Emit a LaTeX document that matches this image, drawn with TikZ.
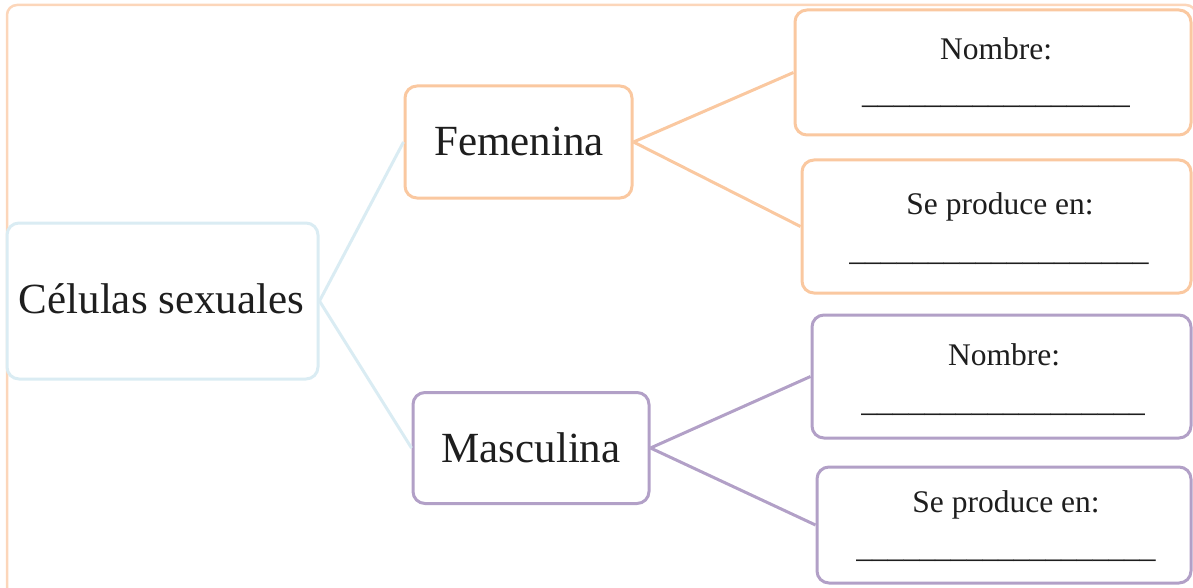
\documentclass[tikz,border=0pt]{standalone}
\usepackage{fontspec}
\setmainfont{Liberation Serif}
\definecolor{orangeC}{RGB}{250,200,160}
\definecolor{blueC}{RGB}{218,236,243}
\definecolor{purpleC}{RGB}{178,160,199}
\definecolor{frameC}{RGB}{252,214,186}
\definecolor{textC}{RGB}{30,30,30}
\begin{document}
\begin{tikzpicture}[x=1pt,y=-1pt,
  box/.style={draw, line width=3pt, rounded corners=12pt, fill=white, inner sep=0pt},
  bigtxt/.style={anchor=base, inner sep=0pt, text=textC, font=\fontsize{43}{50}\selectfont},
  smalltxt/.style={anchor=base, inner sep=0pt, text=textC, font=\fontsize{31.5}{36}\selectfont},
  link/.style={line width=3pt}]
\useasboundingbox (0,0) rectangle (1193,588);
% outer frame
\draw[frameC, line width=2.5pt, rounded corners=10pt] (7,5) rectangle (1196,620);
% boxes
\node[box, draw=blueC, minimum width=311pt, minimum height=156pt] (root) at (162.5,301) {};
\node[box, draw=orangeC, minimum width=227pt, minimum height=112pt] (fem) at (518.5,142) {};
\node[box, draw=purpleC, minimum width=236pt, minimum height=111pt] (mas) at (531,448) {};
\node[box, draw=orangeC, minimum width=396pt, minimum height=125pt] (fn) at (993,72.5) {};
\node[box, draw=orangeC, minimum width=389pt, minimum height=133pt] (fs) at (996.5,226.5) {};
\node[box, draw=purpleC, minimum width=379pt, minimum height=123pt] (mn) at (1001.5,376.5) {};
\node[box, draw=purpleC, minimum width=374pt, minimum height=116pt] (ms) at (1004,525) {};
% connectors
\draw[link, blueC] (root.east) -- (fem.west);
\draw[link, blueC] (root.east) -- (mas.west);
\draw[link, orangeC] (fem.east) -- (fn.west);
\draw[link, orangeC] (fem.east) -- (fs.west);
\draw[link, purpleC] (mas.east) -- (mn.west);
\draw[link, purpleC] (mas.east) -- (ms.west);
% labels
\node[bigtxt] (troot) at (161.5,313) {Células sexuales};
\node[bigtxt] (tfem) at (519,156) {Femenina};
\node[bigtxt] (tmas) at (531,462) {Masculina};
\node[smalltxt] (tfn1) at (996,60) {Nombre:};
\node[smalltxt] (tfn2) at (996,104) {\_\_\_\_\_\_\_\_\_\_\_\_\_\_\_\_\_};
\node[smalltxt] (tfs1) at (1000,214) {Se produce en:};
\node[smalltxt] (tfs2) at (999,260) {\_\_\_\_\_\_\_\_\_\_\_\_\_\_\_\_\_\_\_};
\node[smalltxt] (tmn1) at (1004,365) {Nombre:};
\node[smalltxt] (tmn2) at (1003,411) {\_\_\_\_\_\_\_\_\_\_\_\_\_\_\_\_\_\_};
\node[smalltxt] (tms1) at (1006,512) {Se produce en:};
\node[smalltxt] (tms2) at (1006,557) {\_\_\_\_\_\_\_\_\_\_\_\_\_\_\_\_\_\_\_};
\end{tikzpicture}
\end{document}
